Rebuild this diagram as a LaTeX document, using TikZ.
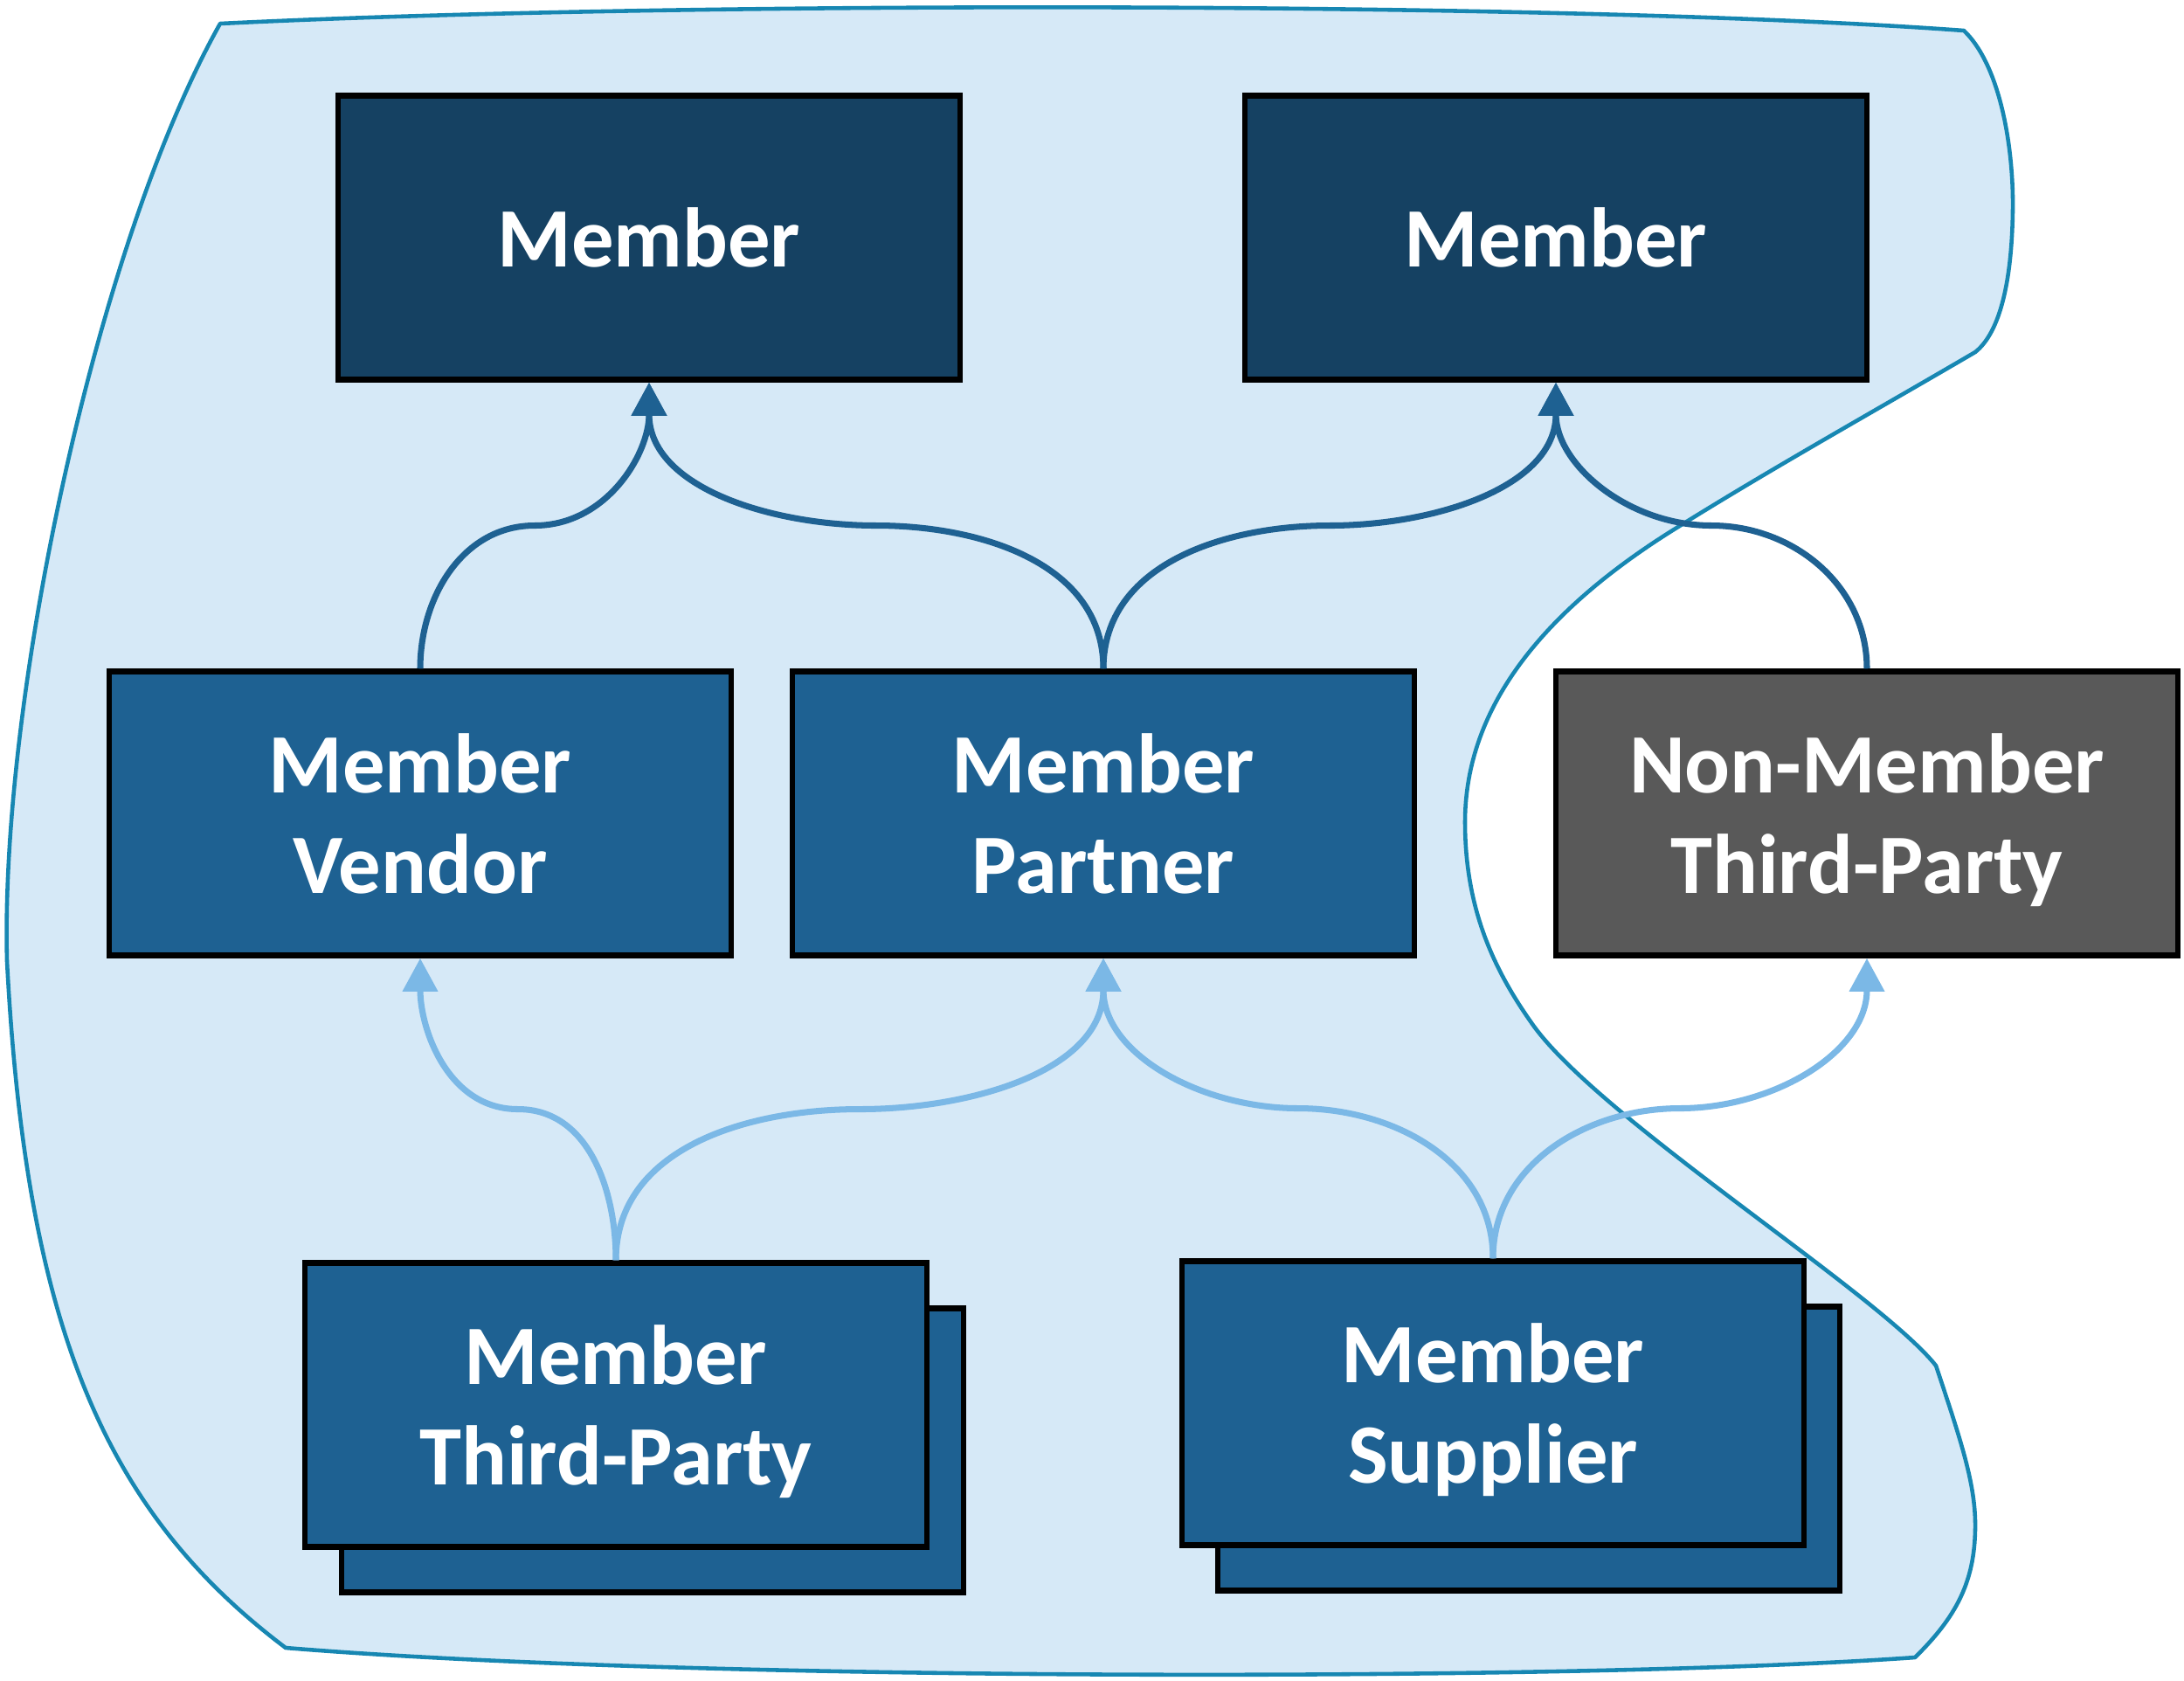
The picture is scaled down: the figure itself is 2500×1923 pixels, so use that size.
\documentclass[tikz,border=0pt]{standalone}
\usepackage{fontspec}
\setmainfont{Carlito}
\usetikzlibrary{arrows.meta,calc}
\definecolor{topblue}{RGB}{21,65,98}
\definecolor{midblue}{RGB}{30,97,146}
\definecolor{nmgray}{RGB}{89,89,89}
\definecolor{ltarrow}{RGB}{123,184,230}
\definecolor{blobfill}{RGB}{214,233,247}
\definecolor{blobline}{RGB}{23,135,178}
\begin{document}
\begin{tikzpicture}[x=0.01cm,y=-0.01cm,
  nbox/.style={draw=black, line width=1.8pt, minimum width=7.11cm, minimum height=3.25cm,
    inner sep=0pt, text depth=0pt, text=white, font=\bfseries\fontsize{27.5pt}{32.5pt}\selectfont, align=center},
  topbox/.style={nbox, fill=topblue},
  midbox/.style={nbox, fill=midblue},
  graybox/.style={nbox, fill=nmgray},
  darkarrow/.style={draw=midblue, line width=2pt, -{Triangle[length=0.38cm,width=0.39cm]}},
  lightarrow/.style={draw=ltarrow, line width=2pt, -{Triangle[length=0.38cm,width=0.39cm]}},
  blob/.style={fill=blobfill, draw=blobline, line width=1.3pt, line join=round}
]
\useasboundingbox (0,0) rectangle (2500,1923);

% enclosing region
\path[blob] (252,27) .. controls (800,0) and (1800,2) .. (2248,35)
 .. controls (2290,75) and (2305,170) .. (2304,240)
 .. controls (2303,320) and (2290,380) .. (2261,403)
 .. controls (2150,468) and (2030,535) .. (1921,603)
 .. controls (1780,690) and (1677,800) .. (1677,941)
 .. controls (1677,1040) and (1710,1110) .. (1754,1172)
 .. controls (1830,1280) and (2150,1480) .. (2216,1563)
 .. controls (2245,1650) and (2262,1700) .. (2261,1750)
 .. controls (2260,1810) and (2240,1850) .. (2192,1897)
 .. controls (1800,1925) and (800,1925) .. (327,1886)
 .. controls (120,1730) and (30,1520) .. (8,1100)
 .. controls (0,800) and (110,280) .. (252,27) -- cycle;

% boxes
\node[midbox] (tpback) at (747,1660) {};
\node[midbox] (tp) at (705,1608) {Member\\Third-Party};
\node[midbox] (suppback) at (1750,1658) {};
\node[midbox] (supp) at (1709,1606) {Member\\Supplier};
\node[topbox] (m1) at (743,272) {Member};
\node[topbox] (m2) at (1781,272) {Member};
\node[midbox] (vend) at (481,931) {Member\\Vendor};
\node[midbox] (part) at (1263,931) {Member\\Partner};
\node[graybox] (nonm) at (2137,931) {Non-Member\\Third-Party};

% upper connectors
\draw[darkarrow] (vend.north) to[out=90,in=180] ($(vend.north)!.5!(m1.south)$) to[out=0,in=-90] (m1.south);
\draw[darkarrow] (part.north) to[out=90,in=0] ($(part.north)!.5!(m1.south)$) to[out=180,in=-90] (m1.south);
\draw[darkarrow] (part.north) to[out=90,in=180] ($(part.north)!.5!(m2.south)$) to[out=0,in=-90] (m2.south);
\draw[darkarrow] (nonm.north) to[out=90,in=0] ($(nonm.north)!.5!(m2.south)$) to[out=180,in=-90] (m2.south);

% lower connectors
\draw[lightarrow] (tp.north) to[out=90,in=0] ($(tp.north)!.5!(vend.south)$) to[out=180,in=-90] (vend.south);
\draw[lightarrow] (tp.north) to[out=90,in=180] ($(tp.north)!.5!(part.south)$) to[out=0,in=-90] (part.south);
\draw[lightarrow] (supp.north) to[out=90,in=0] ($(supp.north)!.5!(part.south)$) to[out=180,in=-90] (part.south);
\draw[lightarrow] (supp.north) to[out=90,in=180] ($(supp.north)!.5!(nonm.south)$) to[out=0,in=-90] (nonm.south);
\end{tikzpicture}
\end{document}
